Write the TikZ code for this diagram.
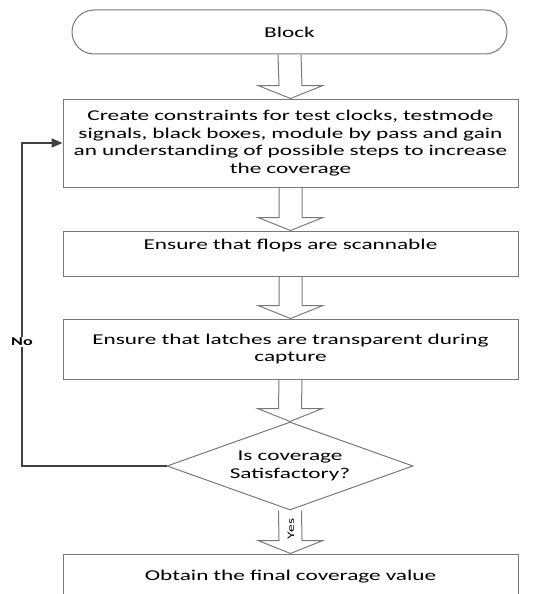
\documentclass[tikz,border=0pt]{standalone}
\usepackage{fontspec}
\setmainfont{Carlito}[FakeStretch=1.55]
\newfontfamily\labelbold{Carlito Bold}[FakeStretch=1.5]
\usetikzlibrary{positioning, calc, shapes.geometric, shapes.misc, arrows.meta}
\definecolor{boxgray}{RGB}{120,120,120}
\definecolor{loopgray}{RGB}{64,64,64}
\tikzset{
    flow-box/.style={
        draw=boxgray, rectangle, line width=1pt, minimum width=455, minimum height=#1,
        text width=452, align=center, inner sep=0pt, font=\fontsize{15}{17.5}\selectfont
    },
    flow-end/.style={
        draw=boxgray, rounded rectangle, line width=1pt, minimum width=435, minimum height=44,
        inner sep=0pt, font=\fontsize{15}{17.5}\selectfont
    },
    flow-test/.style={
        draw=boxgray, diamond, aspect=2.8, line width=1pt, minimum width=246, minimum height=88,
        inner sep=0pt, align=center, font=\fontsize{15}{17.5}\selectfont
    },
    block-arrow/.style={
        draw=boxgray, line width=1pt, line join=miter
    },
    loop-line/.style={
        draw=loopgray, line width=2pt, -{Triangle[length=11pt, width=9pt]}
    },
}
\newcommand{\blockarrow}[2]{%
    \draw[block-arrow] ($(#1.south)+(-11.5,0)$) -- ($(#2.north)+(-11.5,13)$)
        -- ($(#2.north)+(-32.5,13)$) -- (#2.north) -- ($(#2.north)+(32.5,13)$)
        -- ($(#2.north)+(11.5,13)$) -- ($(#1.south)+(11.5,0)$);
}
\begin{document}
\begin{tikzpicture}[x=1pt, y=1pt]

        \useasboundingbox (0,0) rectangle (546,-594);
        \clip (0,0) rectangle (546,-594);

        % START
        \node[flow-end]     (block)  at (289.5,-32)  {Block};

        % STEPS
        \node[flow-box=88]  (box1)   at (290.5,-143) {Create constraints for test clocks, testmode\\signals, black boxes, module by pass and gain\\an understanding of possible steps to increase\\the coverage};
        \node[flow-box=45]  (box2)   at (290.5,-253.5) {Ensure that flops are scannable\\~};
        \node[flow-box=60]  (box3)   at (290.5,-349) {Ensure that latches are transparent during\\capture};

        % DECISION
        \node[flow-test]    (check)  at (290,-466)   {Is coverage\\Satisfactory?};

        % END
        \node[flow-box=46]  (final)  at (290.5,-577) {Obtain the final coverage value};

        % BLOCK ARROWS
        \blockarrow{block}{box1}
        \blockarrow{box1}{box2}
        \blockarrow{box2}{box3}
        \blockarrow{box3}{check}
        \blockarrow{check}{final}
        \node[rotate=90, inner sep=0pt, font=\fontsize{10}{12}\selectfont] (yes) at (291,-529) {Yes};

        % NO LOOP
        \coordinate (back) at (22,-466);
        \draw[loop-line] (check.west) -- (back) |- (box1.west);
        \node[fill=white, inner sep=1.5pt, font=\labelbold\fontsize{12}{14}\selectfont] (no) at (22,-342) {No};

    \end{tikzpicture}
\end{document}
